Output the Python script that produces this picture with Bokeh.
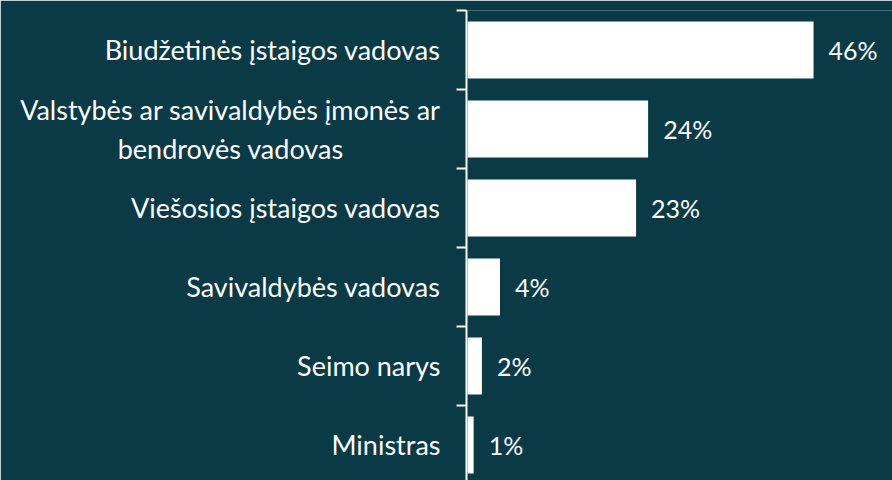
from bokeh.plotting import figure
from bokeh.models import Range1d, FixedTicker, ColumnDataSource
from bokeh.core.properties import value
from bokeh.embed import file_html
from bokeh.resources import INLINE

NB = "\u00a0"
categories = ["Biudžetinės įstaigos vadovas",
              "Valstybės ar savivaldybės įmonės ar\nbendrovės vadovas" + NB * 14,
              "Viešosios įstaigos vadovas",
              "Savivaldybės vadovas",
              "Seimo narys",
              "Ministras"]
values = [46, 24, 22.4, 4.3, 1.9, 0.8]
value_labels = ["46%", "24%", "23%", "4%", "2%", "1%"]

BG = "#0a3a45"
FONT = "Lato"

idx = list(range(len(categories)))
src = ColumnDataSource(dict(y=idx, v=values, lab=value_labels,
                            lx=[v + 2 for v in values]))

p = figure(width=892, height=480, output_backend="svg", toolbar_location=None,
           x_range=Range1d(-0.15, 56.5), y_range=Range1d(5.45, -0.5),
           min_border_left=466, min_border_right=0, min_border_top=10,
           min_border_bottom=0)
p.background_fill_color = BG
p.border_fill_color = BG
p.outline_line_color = None
p.xgrid.visible = False
p.ygrid.visible = False
p.xaxis.visible = False

p.hbar(y="y", right="v", left=0, height=0.72, source=src,
       fill_color="white", line_color=None)
p.text(x="lx", y="y", text="lab", source=src, text_color="white",
       text_font=value(FONT), text_font_size="25px", text_baseline="middle",
       text_align="left")

ax = p.yaxis[0]
ax.ticker = FixedTicker(ticks=idx, minor_ticks=[i - 0.5 for i in range(len(categories) + 1)])
ax.major_label_overrides = {i: c for i, c in enumerate(categories)}
ax.axis_line_color = "white"
ax.axis_line_width = 2
ax.major_tick_line_color = None
ax.major_tick_out = 0
ax.major_tick_in = 0
ax.minor_tick_line_color = "white"
ax.minor_tick_line_width = 2
ax.minor_tick_out = 10
ax.minor_tick_in = 0
ax.major_label_text_color = "white"
ax.major_label_text_font = FONT
ax.major_label_text_font_size = "27px"
ax.major_label_standoff = 16

html = file_html(p, INLINE)
html = html.replace("<body>", '<body style="background:%s">' % BG, 1)
open("out.html", "w").write(html)
